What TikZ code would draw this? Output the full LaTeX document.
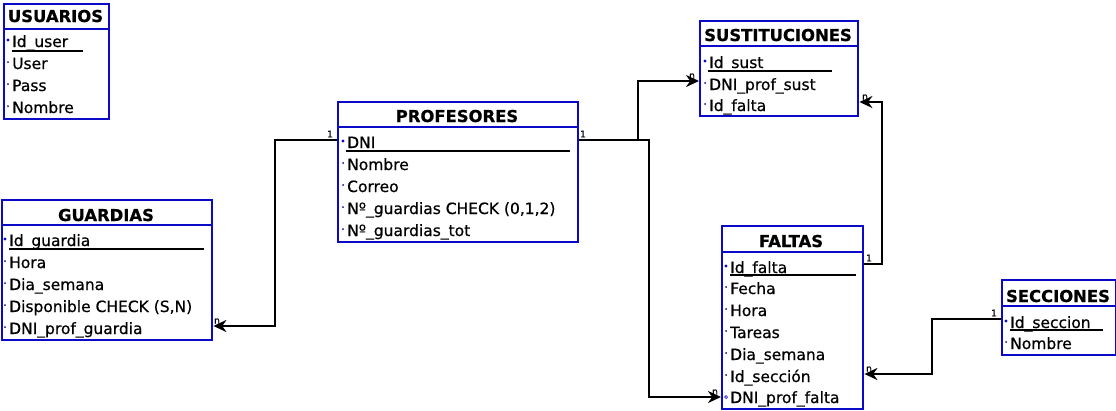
\documentclass[tikz,border=0pt]{standalone}
\usepackage{fontspec}
\setmainfont{DejaVu Sans}
\newfontfamily\rowfont{DejaVu Sans}[FakeBold=0.6]
\newfontfamily\ttlfont{DejaVu Sans Bold}[FakeBold=0.8]
\usetikzlibrary{arrows.meta}
\definecolor{tblblue}{RGB}{10,10,200}
\tikzset{
  tbl/.style={draw=tblblue, line width=2.4pt, inner sep=0pt, anchor=north west},
  hdr/.style={draw=tblblue, line width=2.4pt},
  ttl/.style={font=\fontsize{16.4}{17}\ttlfont, anchor=base, inner sep=0pt},
  attr/.style={font=\fontsize{15.5}{16}\rowfont, anchor=base west, inner sep=0pt},
  ul/.style={line width=1.2pt},
  pkdot/.style={fill=tblblue},
  fkdot/.style={fill=tblblue!70!black},
  opdot/.style={draw=tblblue, line width=0.7pt, fill=white},
  conn/.style={line width=2.2pt},
  arr/.style={conn, -{Stealth[length=13pt,width=12pt]}},
  card/.style={font=\fontsize{9}{9}\rowfont, inner sep=0pt},
}
\newcommand\attrrow[5]{%
  \node[attr] (#1) at (#2,#3) {#4};
  \ifx#5o\draw[opdot] (#2-4,#3-6) circle (1.5pt);
  \else\ifx#5p\fill[pkdot] (#2-4,#3-7) circle (1.7pt);
  \else\fill[fkdot] (#2-4,#3-7) circle (1pt);\fi\fi}
\begin{document}
\begin{tikzpicture}[x=1pt,y=-1pt]
\useasboundingbox (0,0) rectangle (1116,410);

% USUARIOS
\node[tbl, minimum width=105pt, minimum height=115pt] (usu) at (3,3) {};
\draw[hdr] (usu.west |- 0,29) -- (usu.east |- 0,29);
\node[ttl] (usuT) at (55.5,22) {USUARIOS};
\attrrow{usu1}{12}{47}{Id\_user}{p}
\attrrow{usu2}{12}{69}{User}{f}
\attrrow{usu3}{12}{91}{Pass}{f}
\attrrow{usu4}{12}{113}{Nombre}{f}
\draw[ul] (12,51) -- (83,51);

% PROFESORES
\node[tbl, minimum width=240pt, minimum height=140pt] (prof) at (337,101) {};
\draw[hdr] (prof.west |- 0,127) -- (prof.east |- 0,127);
\node[ttl] (profT) at (457,122) {PROFESORES};
\attrrow{prof1}{347}{148}{DNI}{p}
\attrrow{prof2}{347}{170}{Nombre}{f}
\attrrow{prof3}{347}{192}{Correo}{f}
\attrrow{prof4}{347}{214}{Nº\_guardias CHECK (0,1,2)}{f}
\attrrow{prof5}{347}{236}{Nº\_guardias\_tot}{f}
\draw[ul] (346,151) -- (570,151);

% SUSTITUCIONES
\node[tbl, minimum width=158pt, minimum height=95pt] (sust) at (699,20) {};
\draw[hdr] (sust.west |- 0,46) -- (sust.east |- 0,46);
\node[ttl] (sustT) at (778,41) {SUSTITUCIONES};
\attrrow{sust1}{709}{68}{Id\_sust}{p}
\attrrow{sust2}{709}{90}{DNI\_prof\_sust}{f}
\attrrow{sust3}{709}{111}{Id\_falta}{f}
\draw[ul] (708,71) -- (832,71);

% GUARDIAS
\node[tbl, minimum width=210pt, minimum height=140pt] (guar) at (1,199) {};
\draw[hdr] (guar.west |- 0,225) -- (guar.east |- 0,225);
\node[ttl] (guarT) at (106,221) {GUARDIAS};
\attrrow{guar1}{9}{246}{Id\_guardia}{p}
\attrrow{guar2}{9}{268}{Hora}{f}
\attrrow{guar3}{9}{290}{Dia\_semana}{f}
\attrrow{guar4}{9}{312}{Disponible CHECK (S,N)}{f}
\attrrow{guar5}{9}{334}{DNI\_prof\_guardia}{f}
\draw[ul] (9,249) -- (204,249);

% FALTAS
\node[tbl, minimum width=141pt, minimum height=183pt] (falt) at (721,225) {};
\draw[hdr] (falt.west |- 0,252) -- (falt.east |- 0,252);
\node[ttl] (faltT) at (791,247) {FALTAS};
\attrrow{falt1}{730}{273}{Id\_falta}{p}
\attrrow{falt2}{730}{294}{Fecha}{f}
\attrrow{falt3}{730}{316}{Hora}{f}
\attrrow{falt4}{730}{338}{Tareas}{f}
\attrrow{falt5}{730}{360}{Dia\_semana}{f}
\attrrow{falt6}{730}{382}{Id\_sección}{f}
\attrrow{falt7}{730}{403}{DNI\_prof\_falta}{o}
\draw[ul] (730,275) -- (856,275);

% SECCIONES
\node[tbl, minimum width=114pt, minimum height=75pt] (secc) at (1001,279) {};
\draw[hdr] (secc.west |- 0,306) -- (secc.east |- 0,306);
\node[ttl] (seccT) at (1058,302) {SECCIONES};
\attrrow{secc1}{1010}{328}{Id\_seccion}{p}
\attrrow{secc2}{1010}{349}{Nombre}{f}
\draw[ul] (1010,330) -- (1103,330);

% connector end points
\coordinate (pL) at (prof.west |- 0,140);
\coordinate (gR) at (guar.east |- 0,326);
\coordinate (pR) at (prof.east |- 0,140);
\coordinate (jn) at (638,140);
\coordinate (sL) at (sust.west |- 0,81);
\coordinate (fL) at (falt.west |- 0,397);
\coordinate (fR1) at (falt.east |- 0,264);
\coordinate (sR) at (sust.east |- 0,102);
\coordinate (cL) at (secc.west |- 0,319);
\coordinate (fR2) at (falt.east |- 0,374);

\draw[arr] (pL) -- (275,140) |- (gR);
\draw[arr] (pR) -- (649,140) |- (fL);
\draw[arr] (jn) |- (sL);
\draw[arr] (fR1) -- (882,264) |- (sR);
\draw[arr] (cL) -- (932,319) |- (fR2);

% cardinality labels
\node[card] (c1) at (330,134) {1};
\node[card] (c2) at (583,134) {1};
\node[card] (c3) at (869,258) {1};
\node[card] (c4) at (994,313) {1};
\node[card] (n1) at (217,321) {n};
\node[card] (n2) at (692,76) {n};
\node[card] (n3) at (865,97) {n};
\node[card] (n4) at (715,392) {n};
\node[card] (n5) at (869,369) {n};
\end{tikzpicture}
\end{document}
